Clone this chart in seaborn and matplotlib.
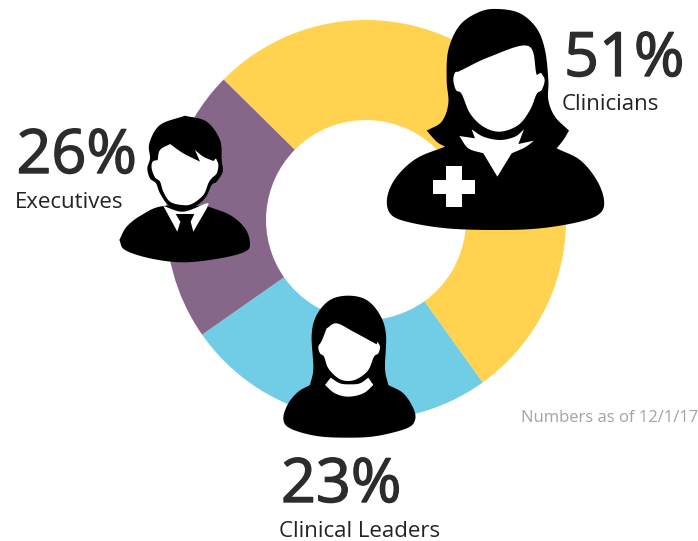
import numpy as np
import seaborn as sns
import matplotlib.pyplot as plt
import matplotlib.patheffects as pe
from matplotlib.patches import Polygon, Rectangle

# wedge shares as measured from the ring (they differ a little from the printed numbers)
segments = ["Clinicians", "Clinical Leaders", "Executives"]
shares = [52.7, 25.2, 22.1]
segment_colors = ["#FFD250", "#70CDE5", "#866689"]

percent_labels = ["51%", "26%", "23%"]
group_labels = ["Clinicians", "Executives", "Clinical Leaders"]
note = "Numbers as of 12/1/17"

sns.set_theme(style="white")
plt.rcParams["font.family"] = ["Open Sans", "DejaVu Sans"]

W, H = 698, 541
fig = plt.figure(figsize=(W / 100, H / 100), dpi=100, facecolor="white")

# ring
ax = fig.add_axes([166 / W, (H - 420) / H, 400 / W, 400 / H])
ax.pie(shares, colors=sns.color_palette(segment_colors), startangle=135.4, counterclock=False,
       radius=1, wedgeprops={"width": 0.5, "linewidth": 0})
ax.set_xlim(-1, 1)
ax.set_ylim(-1, 1)

# overlay in pixel coordinates for icons and text
ov = fig.add_axes([0, 0, 1, 1])
ov.set_xlim(0, W)
ov.set_ylim(H, 0)
ov.axis("off")


def spline(p0, p1, p2, p3):
    t = np.linspace(0, 1, 12, endpoint=False)[:, None]
    return 0.5 * (2 * p1 + (p2 - p0) * t + (2 * p0 - 5 * p1 + 4 * p2 - p3) * t ** 2
                  + (3 * p1 - p0 - 3 * p2 + p3) * t ** 3)


def blob(runs, ox, oy, color, z=3):
    out = []
    for i, run in enumerate(runs):
        p = np.array(run + [runs[(i + 1) % len(runs)][0]], dtype=float) / 3 + [ox, oy]
        p = np.vstack([2 * p[0] - p[1], p, 2 * p[-1] - p[-2]])
        for k in range(1, len(p) - 2):
            out.extend(spline(p[k - 1], p[k], p[k + 1], p[k + 2]))
    ov.add_patch(Polygon(out, closed=True, facecolor=color, edgecolor="none", zorder=z))


# clinician icon
cx, cy = 380, 0
blob([[(140, 392), (185, 365), (205, 310), (200, 240), (205, 150), (240, 75), (300, 35), (355, 27),
       (420, 40), (470, 85), (495, 150), (505, 240), (505, 300), (525, 350)],
      [(567, 392), (550, 420)],
      [(530, 445), (600, 480), (650, 540), (672, 600), (660, 640), (600, 665), (480, 685), (350, 690),
       (200, 685), (80, 665), (30, 640), (22, 590), (50, 530), (110, 475)],
      [(195, 440), (170, 425)]],
     cx, cy, "black")
blob([[(235, 215), (330, 170), (445, 138)],
      [(470, 225)],
      [(483, 218), (494, 240), (485, 270), (470, 282), (450, 330), (415, 375), (360, 395), (310, 380), (270, 340),
       (245, 282), (228, 270), (220, 240), (225, 218)]],
     cx, cy, "white", 4)
blob([[(238, 408)], [(285, 415)], [(275, 388), (310, 410), (360, 420), (405, 410)], [(432, 388)], [(415, 432)],
      [(462, 422), (435, 442)], [(395, 460)], [(352, 530)], [(310, 460), (265, 445)]],
     cx, cy, "white", 4)
ov.add_patch(Rectangle((cx + 198 / 3, cy + 498 / 3), 48 / 3, 124 / 3, color="white", lw=0, zorder=4))
ov.add_patch(Rectangle((cx + 160 / 3, cy + 540 / 3), 125 / 3, 42 / 3, color="white", lw=0, zorder=4))

# executive icon
ex, ey = 0, 100
blob([[(358, 420), (380, 380), (425, 345), (490, 318)],
      [(620, 318), (690, 345), (735, 385), (750, 430), (735, 455), (660, 475), (550, 487), (450, 475), (375, 450)]],
     ex, ey, "black")
blob([[(490, 318), (550, 335), (620, 310)], [(622, 322)], [(580, 395)], [(572, 365)], [(583, 342)], [(527, 342)],
      [(541, 365)], [(532, 395)]],
     ex, ey, "white", 4)
blob([[(555, 47), (620, 65), (660, 120), (665, 180), (668, 215), (650, 245), (635, 255), (615, 295), (580, 322),
       (545, 328), (505, 315), (480, 280), (468, 250), (450, 235), (442, 205), (450, 175), (448, 130), (480, 75)]],
     ex, ey, "black", 5)
blob([[(473, 180), (480, 150)], [(510, 132), (550, 160)], [(600, 185)], [(585, 150), (610, 170)], [(640, 183)],
      [(648, 175), (655, 195), (650, 220), (635, 235), (625, 250), (610, 285), (575, 312), (545, 315), (510, 305),
       (490, 275), (480, 245), (465, 232), (455, 205), (458, 185)]],
     ex, ey, "white", 6)

# clinical leader icon
lx, ly = 260, 285
blob([[(150, 300), (160, 250), (155, 150), (170, 90), (210, 45), (265, 32), (320, 45), (360, 90),
       (378, 150), (375, 250)],
      [(385, 300), (430, 325), (460, 370), (465, 405), (440, 430), (350, 453), (265, 458), (170, 453), (90, 430),
       (70, 400), (85, 355), (115, 320)]],
     lx, ly, "black")
blob([[(200, 130), (230, 115), (280, 140)], [(350, 178)],
      [(352, 170), (360, 185), (355, 205), (342, 215), (325, 255), (295, 280), (265, 288), (235, 280), (205, 250),
       (192, 215), (180, 205), (175, 185), (185, 168)]],
     lx, ly, "white", 4)
blob([[(212, 278), (240, 295), (270, 298), (300, 295)], [(325, 278)], [(340, 300), (310, 325), (265, 335), (225, 325)],
      [(195, 300)]],
     lx, ly, "white", 4)

# text, the big numbers sit between regular and semibold so thicken the regular a bit
thick = [pe.withStroke(linewidth=1.0, foreground="#2B2C2E")]
big = {"fontsize": 44, "color": "#2B2C2E", "va": "baseline", "ha": "left", "zorder": 8, "path_effects": thick}
small = {"fontsize": 16, "color": "#222326", "va": "baseline", "ha": "left", "zorder": 8}
ov.text(564, 76, percent_labels[0], **big)
ov.text(562, 110, group_labels[0], **small)
ov.text(16.5, 173, percent_labels[1], **big)
ov.text(15, 208, group_labels[1], **small)
ov.text(281, 502, percent_labels[2], **big)
ov.text(279, 537, group_labels[2], **small)
ov.text(521, 422, note, fontsize=12, color="#A3A3A3", va="baseline", ha="left", zorder=8)

fig.savefig("out.png", dpi=100, facecolor="white")
plt.close(fig)
